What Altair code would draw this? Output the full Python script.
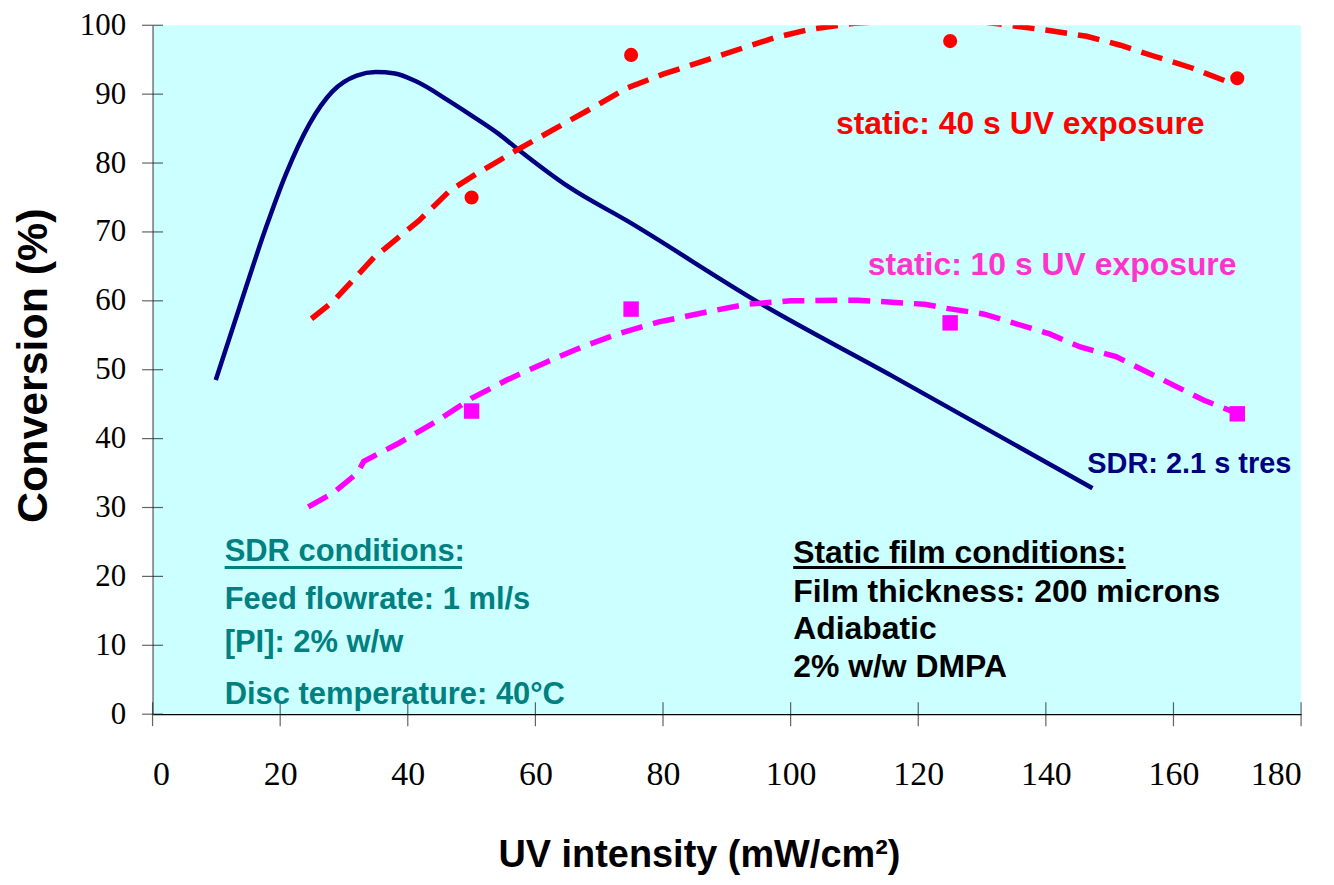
import altair as alt
import pandas as pd

# ---- data ----
sdr_x = [9.9, 13.6, 17.8, 20.9, 24.6, 28.2, 32.0, 35.0, 38.0, 41.2, 46.5, 50.0, 54.3, 57.0, 65.3, 74.4, 95.3, 116.1, 147.3]
sdr_y = [48.5, 59.0, 70.7, 78.4, 85.7, 90.4, 92.7, 93.2, 93.0, 91.9, 89.0, 86.9, 84.2, 82.2, 76.5, 71.6, 59.6, 49.0, 32.8]

red_fit_x = [24.9, 28.4, 34.7, 41.7, 46.6, 50.7, 57.7, 63.3, 68.9, 74.4, 80.0, 86.3, 92.5, 97.5, 103.0, 110.0,
             120.0, 130.0, 140.0, 146.4, 151.7, 157.0, 162.9, 169.3]
red_fit_y = [57.4, 60.0, 66.3, 71.6, 76.0, 78.4, 82.2, 85.1, 88.0, 90.9, 92.9, 94.8, 96.7, 98.2, 99.4, 100.3,
             100.8, 100.5, 99.3, 98.4, 97.1, 95.5, 93.8, 91.5]

mag_fit_x = [24.4, 28.3, 32.1, 33.1, 38.7, 44.3, 49.9, 55.5, 61.7, 67.3, 72.9, 79.2, 86.9, 93.1, 100.0, 110.5,
             121.0, 124.5, 130.2, 140.6, 145.4, 151.0, 158.4, 164.7, 169.9]
mag_fit_y = [30.1, 32.1, 35.0, 36.7, 39.4, 42.4, 45.8, 48.5, 51.1, 53.3, 55.2, 56.9, 58.4, 59.5, 60.0, 60.1,
             59.5, 58.9, 58.1, 55.2, 53.3, 51.9, 48.5, 45.6, 43.7]

pts_x = [50, 75, 125, 170]
red_pts_y = [75.0, 95.7, 97.7, 92.3]
mag_pts_y = [44.0, 58.8, 56.8, 43.6]

x_ticks = [0, 20, 40, 60, 80, 100, 120, 140, 160, 180]
y_ticks = [0, 10, 20, 30, 40, 50, 60, 70, 80, 90, 100]

ann_text = ["static: 40 s UV exposure", "static: 10 s UV exposure", "SDR: 2.1 s tres",
            "SDR conditions:", "Feed flowrate: 1 ml/s", "[PI]: 2% w/w", "Disc temperature: 40°C",
            "Static film conditions:", "Film thickness: 200 microns", "Adiabatic", "2% w/w DMPA"]
ann_x = [107.1, 112.1, 146.5, 11.3, 11.3, 11.3, 11.3, 100.4, 100.4, 100.4, 100.4]
ann_y = [84.2, 63.7, 35.0, 22.3, 15.3, 9.0, 1.45, 22.0, 16.35, 10.85, 5.35]
ann_color = ["#FF0000", "#FF33CC", "#000080", "#008080", "#008080", "#008080", "#008080",
             "#000000", "#000000", "#000000", "#000000"]
ann_size = [32, 32, 29, 31, 31, 31, 31, 32, 32, 32, 32]

ul_x1 = [11.3, 100.4]
ul_x2 = [48.5, 152.5]
ul_y = [21.3, 21.3]
ul_color = ["#008080", "#000000"]

# ---- encodings ----
W, H = 1152, 691
xscale = alt.Scale(domain=[0, 180], nice=False, zero=False)
yscale = alt.Scale(domain=[0, 100], nice=False, zero=False)


def X(field="x"):
    return alt.X(f"{field}:Q", scale=xscale,
                 axis=alt.Axis(values=x_ticks, title="UV intensity (mW/cm²)", ticks=False, grid=False,
                               labelFont="Liberation Serif", labelFontSize=34, labelPadding=44,
                               labelColor="black", domainColor="black", domainWidth=1.3,
                               titleFont="Liberation Sans", titleFontSize=38, titleFontWeight="bold",
                               titleColor="black", titleX=548, titleY=153, titleBaseline="alphabetic",
                               titleAlign="center"))


def Y(field="y"):
    return alt.Y(f"{field}:Q", scale=yscale,
                 axis=alt.Axis(values=y_ticks, title="Conversion (%)", ticks=False, grid=False,
                               labelFont="Liberation Serif", labelFontSize=31, labelPadding=27,
                               labelColor="black", labelBaseline="middle", domainColor="#777777",
                               domainWidth=1.5, titleFont="Liberation Sans", titleFontSize=43,
                               titleFontWeight="bold", titleColor="black", titleX=-119, titleY=341,
                               titleAngle=270, titleAlign="center", titleBaseline="middle"))


sdr_df = pd.DataFrame({"x": sdr_x, "y": sdr_y})
red_df = pd.DataFrame({"x": red_fit_x, "y": red_fit_y})
mag_df = pd.DataFrame({"x": mag_fit_x, "y": mag_fit_y})
rp_df = pd.DataFrame({"x": pts_x, "y": red_pts_y})
mp_df = pd.DataFrame({"x": pts_x, "y": mag_pts_y})
xt_df = pd.DataFrame({"x": x_ticks})
yt_df = pd.DataFrame({"y": y_ticks})
ann_df = pd.DataFrame({"t": ann_text, "x": ann_x, "y": ann_y, "c": ann_color, "s": ann_size})
ul_df = pd.DataFrame({"x": ul_x1, "x2": ul_x2, "y": ul_y, "c": ul_color})

sdr_line = alt.Chart(sdr_df).mark_line(color="#000080", strokeWidth=4.5, interpolate="monotone").encode(
    x=X(), y=Y())
red_line = alt.Chart(red_df).mark_line(color="#FF0000", strokeWidth=5.5, strokeDash=[22, 11],
                                       clip=True).encode(x=X(), y=Y())
mag_line = alt.Chart(mag_df).mark_line(color="#FF00FF", strokeWidth=5.5, strokeDash=[22, 11],
                                       clip=True).encode(x=X(), y=Y())
red_pts = alt.Chart(rp_df).mark_point(shape="circle", filled=True, color="#FF0000", size=200,
                                      opacity=1).encode(x=X(), y=Y())
mag_pts = alt.Chart(mp_df).mark_point(shape="square", filled=True, color="#FF00FF", size=240,
                                      opacity=1).encode(x=X(), y=Y())
xticks = alt.Chart(xt_df).mark_tick(orient="vertical", size=24, thickness=1.2, color="#222222").encode(
    x=X(), y=alt.datum(0, scale=yscale))
yticks = alt.Chart(yt_df).mark_tick(orient="horizontal", size=21, thickness=1.2, color="#222222").encode(
    y=Y(), x=alt.datum(0, scale=xscale))
underline = alt.Chart(ul_df).mark_rule(strokeWidth=3).encode(
    x=X(), x2="x2:Q", y=Y(), color=alt.Color("c:N", scale=None))
texts = alt.Chart(ann_df).mark_text(align="left", baseline="alphabetic", font="Liberation Sans",
                                    fontWeight="bold").encode(
    x=X(), y=Y(), text="t:N", color=alt.Color("c:N", scale=None), size=alt.Size("s:Q", scale=None))

chart = alt.layer(sdr_line, red_line, mag_line, red_pts, mag_pts, xticks, yticks, underline, texts).properties(
    width=W, height=H,
    padding={"left": 145, "top": 16, "right": 25, "bottom": 162},
    autosize=alt.AutoSizeParams(type="none"),
    background="white",
).configure_view(fill="#CCFFFF", stroke=None)

chart.save("out.html", embed_options={"renderer": "svg", "actions": False})
